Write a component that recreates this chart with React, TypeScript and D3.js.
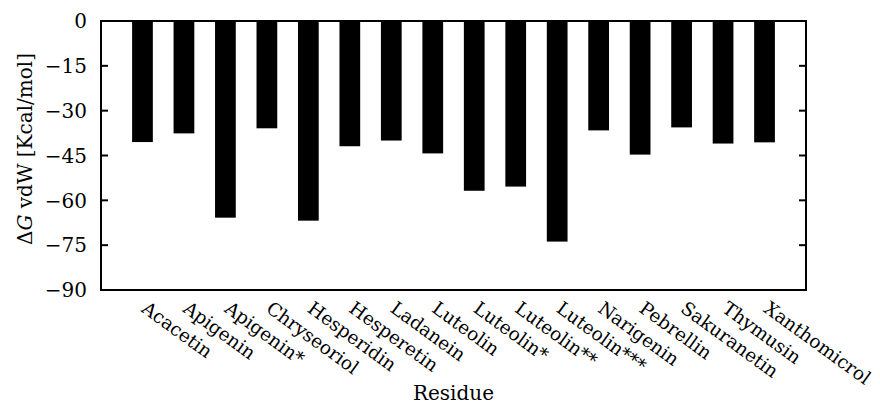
import React, { useEffect, useRef } from "react";
import * as d3 from "d3";

const residues = [
  "Acacetin", "Apigenin", "Apigenin*", "Chryseoriol", "Hesperidin", "Hesperetin",
  "Ladanein", "Luteolin", "Luteolin*", "Luteolin**", "Luteolin***", "Narigenin",
  "Pebrellin", "Sakuranetin", "Thymusin", "Xanthomicrol",
];
const vdwEnergy = [
  -40.5, -37.6, -65.8, -35.9, -66.8, -41.9, -40.0, -44.3,
  -56.8, -55.4, -73.8, -36.6, -44.7, -35.6, -41.0, -40.6,
];
const yTicks = [0, -15, -30, -45, -60, -75, -90];

const W = 880;
const H = 404;
const left = 101, right = 806, top = 21, bottom = 290;
const FONT = "DejaVu Serif, Liberation Serif, serif";
const FS = "20px";

const App = () => {
  const ref = useRef<SVGGElement | null>(null);

  useEffect(() => {
    const g = d3.select(ref.current);
    g.selectAll("*").remove();

    const x = d3.scalePoint<string>().domain(residues).range([left, right]).padding(1);
    const y = d3.scaleLinear().domain([-90, 0]).range([bottom, top]);
    const barW = x.step() * 0.5;

    // bars
    g.selectAll("rect.bar")
      .data(residues)
      .enter()
      .append("rect")
      .attr("class", "bar")
      .attr("x", d => (x(d) as number) - barW / 2)
      .attr("y", y(0))
      .attr("width", barW)
      .attr("height", (d, i) => y(vdwEnergy[i]) - y(0))
      .attr("fill", "black");

    // frame
    g.append("rect")
      .attr("x", left)
      .attr("y", top)
      .attr("width", right - left)
      .attr("height", bottom - top)
      .attr("fill", "none")
      .attr("stroke", "black")
      .attr("stroke-width", 2);

    // y ticks on both sides, pointing inward
    const tick = g.selectAll("g.ytick").data(yTicks).enter().append("g").attr("class", "ytick");
    tick.append("line")
      .attr("x1", left).attr("x2", left + 7)
      .attr("y1", d => y(d)).attr("y2", d => y(d))
      .attr("stroke", "black").attr("stroke-width", 2);
    tick.append("line")
      .attr("x1", right).attr("x2", right - 7)
      .attr("y1", d => y(d)).attr("y2", d => y(d))
      .attr("stroke", "black").attr("stroke-width", 2);
    tick.append("text")
      .attr("x", 87)
      .attr("y", d => y(d))
      .attr("dy", "0.36em")
      .attr("text-anchor", "end")
      .style("font-family", FONT)
      .style("font-size", FS)
      .text(d => (d < 0 ? "\u2212" + Math.abs(d) : String(d)));

    // x labels, rotated
    g.selectAll("text.xlab")
      .data(residues)
      .enter()
      .append("text")
      .attr("class", "xlab")
      .attr("transform", d => `translate(${(x(d) as number) - 2},311) rotate(36)`)
      .attr("text-anchor", "start")
      .style("font-family", FONT)
      .style("font-size", "18.5px")
      .text(d => d);

    // axis titles
    g.append("text")
      .attr("x", (left + right) / 2)
      .attr("y", 400)
      .attr("text-anchor", "middle")
      .style("font-family", FONT)
      .style("font-size", FS)
      .text("Residue");

    const yl = g.append("text")
      .attr("transform", `translate(32,149) rotate(-90)`)
      .attr("text-anchor", "middle")
      .style("font-family", FONT)
      .style("font-size", FS);
    yl.append("tspan").text("\u0394");
    yl.append("tspan").style("font-style", "italic").text("G");
    yl.append("tspan").text(" vdW [Kcal/mol]");
  }, []);

  return (
    <svg width={W} height={H} style={{ position: "absolute", left: 0, top: 0, background: "white" }}>
      <g ref={ref} />
    </svg>
  );
};

export default App;
